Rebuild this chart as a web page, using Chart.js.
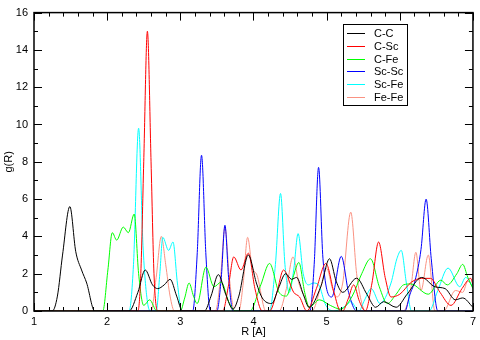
<!DOCTYPE html>
<html>
<head>
<meta charset="utf-8">
<script src="https://cdn.jsdelivr.net/npm/chart.js@4/dist/chart.umd.min.js"></script>
<style>
  html, body { margin: 0; padding: 0; background: #fff; }
  #wrap { width: 480px; height: 340px; position: relative; }
</style>
</head>
<body>
<div id="wrap"><canvas id="rdfChart"></canvas></div>
<script>
// g(R) curves: R [A] and g(R) at each turning point
const seriesNames = ['C-C', 'C-Sc', 'C-Fe', 'Sc-Sc', 'Sc-Fe', 'Fe-Fe'];
const seriesColors = ['#000000', '#ff0000', '#00ff00', '#0000ff', '#00ffff', '#fa9282'];

const ccR = [1.0, 1.25, 1.32, 1.39, 1.49, 1.57, 1.65, 1.72, 1.83, 2.3, 2.42, 2.52, 2.62, 2.69, 2.78, 2.86, 2.95, 3.03, 3.33, 3.42, 3.52, 3.62, 3.72, 3.8, 3.93, 4.04, 4.12, 4.25, 4.34, 4.44, 4.52, 4.59, 4.68, 4.76, 4.92, 5.04, 5.13, 5.22, 5.41, 5.55, 5.67, 5.78, 5.95, 6.1, 6.3, 6.48, 6.62, 6.76, 6.86, 7.0];
const ccG = [0, 0, 0.8, 3.0, 5.6, 3.2, 2.2, 1.5, 0, 0, 1.0, 2.2, 1.4, 1.2, 1.4, 1.7, 0.8, 0, 0, 0.8, 1.95, 0.9, 0.1, 0.8, 3.0, 1.5, 0.7, 0.4, 1.2, 2.0, 1.7, 1.8, 0.9, 0.2, 1.3, 2.8, 1.6, 1.0, 1.76, 0.9, 0.2, 0.5, 0.2, 0.9, 1.8, 1.3, 1.2, 0.6, 0.7, 0.2];

const cscR = [1.0, 2.42, 2.46, 2.5, 2.55, 2.6, 2.64, 2.69, 3.58, 3.66, 3.73, 3.83, 3.93, 4.02, 4.12, 4.22, 4.32, 4.41, 4.55, 4.63, 4.73, 4.86, 4.99, 5.1, 5.19, 5.22, 5.29, 5.37, 5.45, 5.53, 5.62, 5.71, 5.8, 5.88, 6.0, 6.16, 6.3, 6.42, 6.55, 6.7, 6.85, 6.97, 7.0];
const cscG = [0, 0, 2.0, 8.0, 15.0, 8.0, 2.0, 0, 0, 1.4, 2.9, 2.2, 3.1, 1.2, 0, 0, 1.0, 2.2, 1.0, 0.75, 0, 1.2, 2.55, 1.0, 0, 0, 0.6, 1.4, 0.5, 0, 1.5, 3.7, 1.8, 0.75, 0.9, 1.55, 1.75, 1.75, 1.0, 0.3, 1.2, 1.75, 1.4];

const cfeR = [1.0, 1.94, 2.01, 2.07, 2.13, 2.22, 2.29, 2.37, 2.43, 2.5, 2.58, 2.68, 3.0, 3.06, 3.12, 3.18, 3.23, 3.35, 3.46, 3.56, 3.66, 3.76, 3.95, 4.1, 4.22, 4.35, 4.45, 4.54, 4.62, 4.7, 4.76, 4.9, 5.05, 5.19, 5.35, 5.48, 5.6, 5.72, 5.83, 5.95, 6.05, 6.15, 6.39, 6.56, 6.65, 6.78, 6.86, 6.93, 7.0];
const cfeG = [0, 0, 2.2, 4.2, 3.8, 4.5, 4.2, 5.2, 2.0, 0.3, 0.6, 0, 0, 0.7, 1.5, 0.8, 0.4, 2.35, 1.3, 1.55, 0.5, 0, 0, 1.4, 2.55, 1.0, 0.8, 1.8, 2.6, 1.0, 0.2, 0.6, 0.3, 0.1, 0.8, 2.0, 2.8, 1.3, 0.4, 0.9, 1.4, 1.45, 0.9, 1.65, 1.4, 2.0, 2.5, 1.8, 1.2];

const scscR = [1.0, 3.17, 3.23, 3.29, 3.35, 3.41, 3.5, 3.56, 3.61, 3.66, 3.72, 4.77, 4.83, 4.89, 4.95, 5.07, 5.2, 5.3, 5.41, 6.07, 6.14, 6.21, 6.29, 6.36, 6.43, 6.52, 7.0];
const scscG = [0, 0, 3.0, 8.35, 3.0, 0, 0, 1.8, 4.6, 1.8, 0, 0, 2.5, 7.7, 2.8, 0.75, 2.93, 1.0, 0, 0, 0.9, 1.65, 3.3, 6.0, 2.8, 0, 0];

const scfeR = [1.0, 2.3, 2.36, 2.43, 2.49, 2.55, 2.6, 2.67, 2.72, 2.76, 2.84, 2.9, 2.96, 3.02, 4.22, 4.3, 4.37, 4.43, 4.49, 4.55, 4.61, 4.68, 4.75, 4.82, 4.89, 4.99, 5.1, 5.27, 5.33, 5.44, 5.52, 5.61, 5.73, 5.88, 5.96, 6.02, 6.09, 6.16, 6.4, 6.52, 6.66, 6.82, 6.9, 7.0];
const scfeG = [0, 0, 2.5, 9.8, 3.5, 0.5, 0, 0, 2.0, 3.95, 3.25, 3.7, 1.5, 0, 0, 2.5, 6.3, 2.5, 1.0, 2.2, 4.15, 2.0, 1.4, 1.5, 1.4, 0.3, 0, 0.3, 0.5, 0, 0.6, 1.2, 0.4, 1.5, 2.8, 3.25, 1.5, 0, 0, 1.1, 2.3, 1.3, 1.8, 1.3];

const fefeR = [1.0, 2.6, 2.67, 2.74, 2.8, 2.86, 2.92, 3.48, 3.55, 3.61, 3.67, 3.74, 3.8, 3.86, 3.92, 3.98, 4.05, 4.17, 4.35, 4.45, 4.54, 4.62, 4.7, 4.8, 4.92, 5.0, 5.08, 5.14, 5.22, 5.33, 5.41, 5.47, 5.53, 6.05, 6.15, 6.22, 6.29, 6.39, 6.48, 6.6, 6.76, 6.86, 6.93, 7.0];
const fefeG = [0, 0, 1.8, 4.0, 2.5, 0.8, 0, 0, 1.8, 4.5, 1.8, 0, 0, 1.5, 3.95, 2.4, 1.9, 0, 0, 1.2, 2.9, 1.5, 0.75, 0, 1.3, 2.3, 1.2, 0.75, 1.5, 5.3, 2.0, 0.6, 0, 0, 1.2, 3.15, 1.1, 3.0, 0, 0, 1.1, 1.0, 1.6, 1.3];

const allR = [ccR, cscR, cfeR, scscR, scfeR, fefeR];
const allG = [ccG, cscG, cfeG, scscG, scfeG, fefeG];

const xTickLabels = ['1', '2', '3', '4', '5', '6', '7'];
const yTickLabels = ['0', '2', '4', '6', '8', '10', '12', '14', '16'];

Chart.defaults.font.family = "'Liberation Sans', Arial, sans-serif";
Chart.defaults.font.size = 11;
Chart.defaults.color = '#000';

// frame with inward ticks on all four sides, like the grace plot
const frameTicks = {
    id: 'frameTicks',
    afterDatasetsDraw(chart) {
        const { ctx, chartArea: a, scales: { x, y } } = chart;
        ctx.save();
        ctx.strokeStyle = '#000';
        ctx.lineWidth = 1;
        ctx.beginPath();
        for (let i = 5; i <= 35; i++) {
            const px = Math.round(x.getPixelForValue(i / 5)) + 0.5;
            const len = i % 5 === 0 ? 8 : 4;
            ctx.moveTo(px, a.bottom); ctx.lineTo(px, a.bottom - len);
            ctx.moveTo(px, a.top); ctx.lineTo(px, a.top + len);
        }
        for (let v = 0; v <= 16; v++) {
            const py = Math.round(y.getPixelForValue(v)) + 0.5;
            const len = v % 2 === 0 ? 8 : 4;
            ctx.moveTo(a.left, py); ctx.lineTo(a.left + len, py);
            ctx.moveTo(a.right, py); ctx.lineTo(a.right - len, py);
        }
        ctx.stroke();
        ctx.lineWidth = 1.5;
        ctx.strokeRect(a.left, a.top, a.right - a.left, a.bottom - a.top);
        ctx.restore();
    }
};

// boxed legend in the upper right of the plot
const boxLegend = {
    id: 'boxLegend',
    afterDraw(chart) {
        const ctx = chart.ctx;
        const left = 343, top = 24, w = 64, h = 81;
        ctx.save();
        ctx.fillStyle = '#fff';
        ctx.fillRect(left, top, w, h);
        ctx.strokeStyle = '#000';
        ctx.lineWidth = 1;
        ctx.strokeRect(left + 0.5, top + 0.5, w, h);
        ctx.font = "11px 'Liberation Sans', Arial, sans-serif";
        ctx.textBaseline = 'middle';
        seriesNames.forEach((name, i) => {
            const yy = Math.round(top + 9 + i * 12.8) + 0.5;
            ctx.strokeStyle = seriesColors[i];
            ctx.lineWidth = 1;
            ctx.beginPath();
            ctx.moveTo(left + 4, yy);
            ctx.lineTo(left + 22, yy);
            ctx.stroke();
            ctx.fillStyle = '#000';
            ctx.fillText(name, left + 31, yy);
        });
        ctx.restore();
    }
};

const ctx = document.getElementById('rdfChart').getContext('2d');
new Chart(ctx, {
    type: 'line',
    data: {
        datasets: seriesNames.map((name, i) => ({
            label: name,
            data: allR[i].map((r, k) => ({ x: r, y: allG[i][k] })),
            borderColor: seriesColors[i],
            backgroundColor: seriesColors[i],
            borderWidth: 1,
            pointRadius: 0,
            fill: false,
            cubicInterpolationMode: 'monotone'
        }))
    },
    options: {
        responsive: true,
        maintainAspectRatio: false,
        animation: false,
        layout: {
            padding: { top: 11, right: 5, left: 0, bottom: 0 }
        },
        plugins: {
            legend: { display: false },
            tooltip: { enabled: false }
        },
        scales: {
            x: {
                type: 'linear',
                min: 1,
                max: 7,
                grid: { display: false, drawTicks: false },
                border: { display: false },
                ticks: {
                    stepSize: 1,
                    padding: 4,
                    maxRotation: 0,
                    callback: (v) => xTickLabels[Math.round(v) - 1]
                },
                title: {
                    display: true,
                    text: 'R [A]',
                    padding: { top: 0, bottom: 1 }
                },
                afterFit: (s) => { s.height = 29; }
            },
            y: {
                type: 'linear',
                min: 0,
                max: 16,
                grid: { display: false, drawTicks: false },
                border: { display: false },
                ticks: {
                    stepSize: 2,
                    padding: 6,
                    callback: (v) => yTickLabels[Math.round(v / 2)]
                },
                title: {
                    display: true,
                    text: 'g(R)',
                    padding: { top: 2, bottom: 0 }
                },
                afterFit: (s) => { s.width = 34; }
            }
        }
    },
    plugins: [frameTicks, boxLegend]
});
</script>
</body>
</html>
